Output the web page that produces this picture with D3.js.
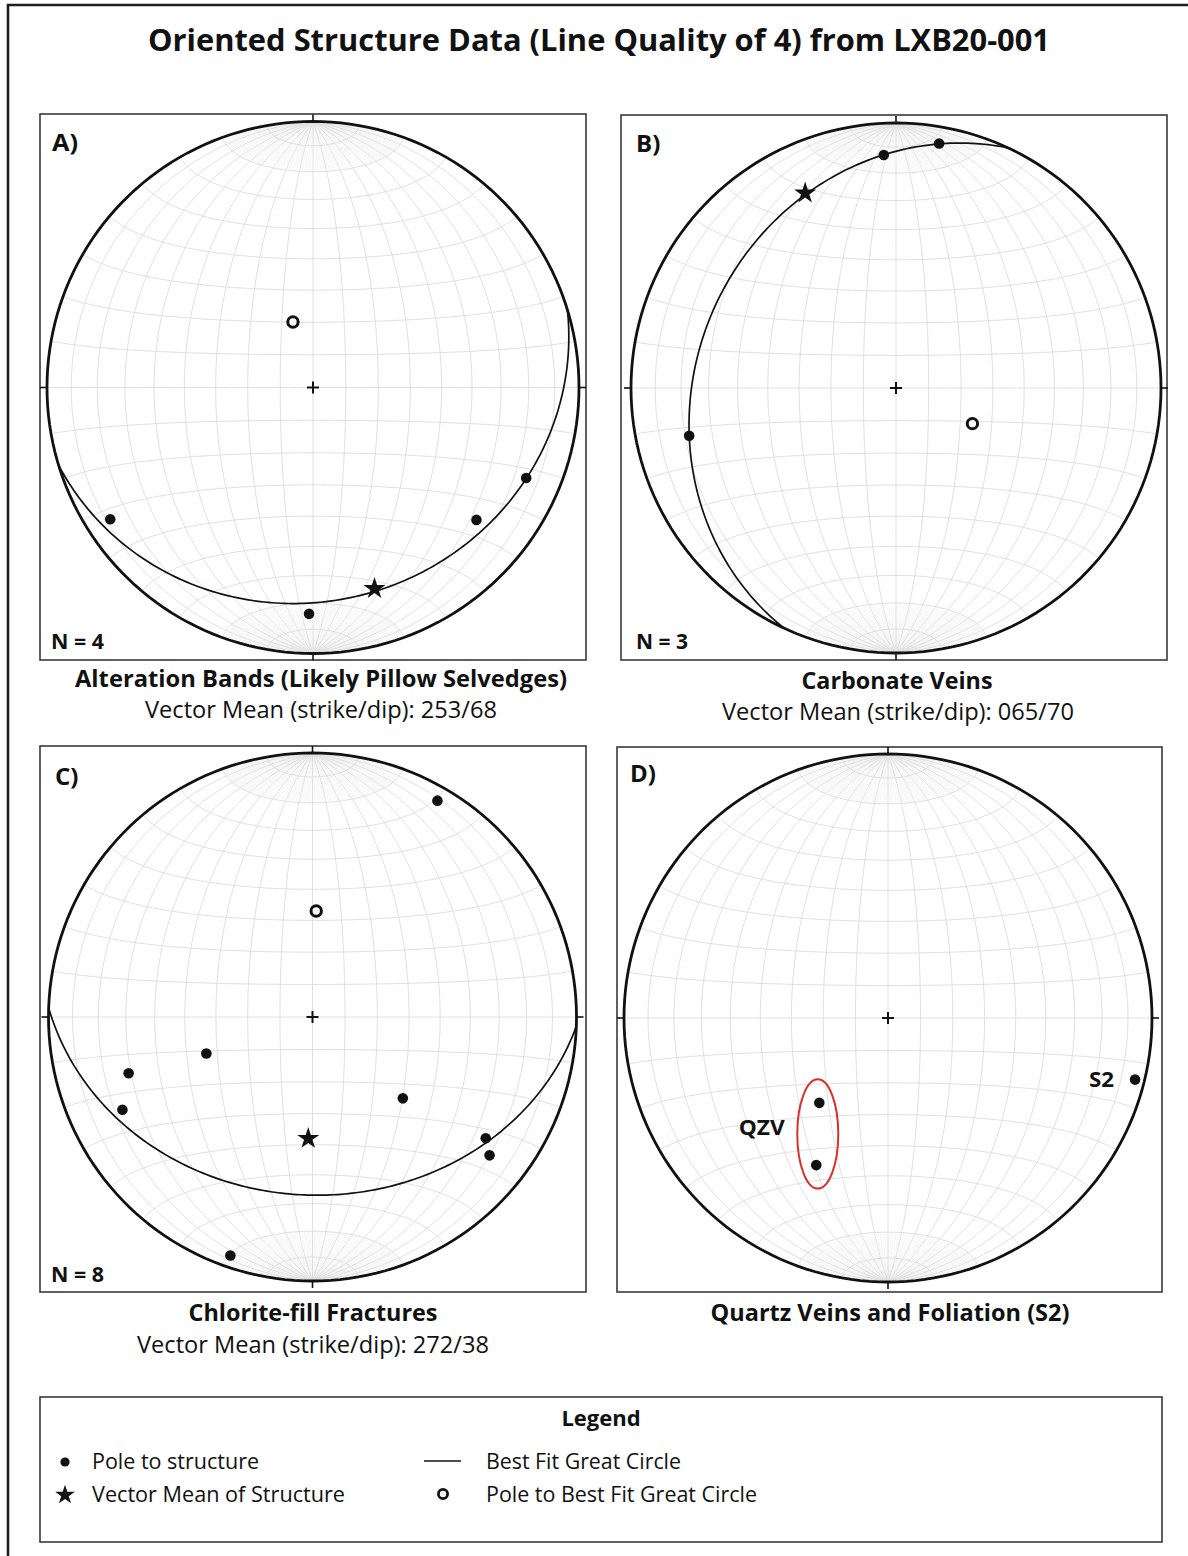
<!DOCTYPE html>
<html><head><meta charset="utf-8">
<script src="https://cdn.jsdelivr.net/npm/d3@7"></script>
<style>html,body{margin:0;padding:0;background:#fff;} svg{display:block;}</style>
</head><body>
<svg id="chart" width="1188" height="1556"></svg>
<script>
// ---------------- DATA ----------------
const chartTitle = "Oriented Structure Data (Line Quality of 4) from LXB20-001";
const panelLetters = ["A)", "B)", "C)", "D)"];
const panelTitles = [
  "Alteration Bands (Likely Pillow Selvedges)",
  "Carbonate Veins",
  "Chlorite-fill Fractures",
  "Quartz Veins and Foliation (S2)"
];
const sampleCounts = [4, 3, 8, null];
// poles to structure, [trend, plunge] (lower hemisphere)
const polesA = [[237, 10], [129, 22], [113, 14], [181, 16]];
const polesB = [[10, 7], [357, 13], [257, 21]];
const polesC = [[30, 6], [251, 55], [253, 28], [244, 21], [132, 52], [125, 21], [128, 16], [199, 5]];
const polesD_QZV = [[219, 56], [206, 38]];
const polesD_S2 = [[104, 4]];
// vector mean of structure, [strike, dip] (right-hand rule)
const vectorMeans = [[253, 68], [65, 70], [272, 38], null];
// pole to best fit great circle, [trend, plunge]
const bestFitPoles = [[343, 69], [115, 64], [2, 57], null];
const legendTitle = "Legend";
const legendLabels = ["Pole to structure", "Vector Mean of Structure", "Best Fit Great Circle", "Pole to Best Fit Great Circle"];

// ---------------- LAYOUT ----------------
const FONT = "'Myriad Pro','Open Sans',sans-serif";
const INK = "#111";
const svg = d3.select("#chart");

const layout = [
  {box: [40, 114, 546, 546], c: [313, 387.5], R: 266,
   letter: [52, 151, 26], n: [51, 649, 53], title: [321, 687, 492], vm: [321, 718, 352]},
  {box: [621, 115, 546, 545], c: [896, 388], R: 265,
   letter: [636, 152, 24], n: [636, 649, 52], title: [897, 689, 191], vm: [898, 720, 352]},
  {box: [40, 746, 546, 546], c: [312.5, 1017], R: 264,
   letter: [55, 785, 24], n: [51, 1282, 53], title: [313, 1321, 249], vm: [313, 1353, 352]},
  {box: [617, 747, 545, 545], c: [888, 1018], R: 264,
   letter: [630, 782, 25], n: null, title: [890, 1321, 359], vm: null}
];
const polesAll = [polesA, polesB, polesC, polesD_QZV.concat(polesD_S2)];

function fit(sel, w) {
  const n = sel.node().getComputedTextLength();
  if (Math.abs(n - w) > 1) sel.attr("textLength", w).attr("lengthAdjust", "spacingAndGlyphs");
  return sel;
}
function addText(g, str, x, y, size, weight, anchor, w) {
  const t = g.append("text").attr("x", x).attr("y", y)
    .attr("font-family", FONT).attr("font-size", size).attr("font-weight", weight)
    .attr("text-anchor", anchor).attr("fill", INK).text(str);
  if (w) fit(t, w);
  return t;
}
const rad = Math.PI / 180;
function lineToLonLat(trend, plunge) {
  const t = trend * rad, p = plunge * rad;
  const N = Math.cos(p) * Math.cos(t), E = Math.cos(p) * Math.sin(t), D = Math.sin(p);
  return [Math.atan2(E, D) / rad, Math.asin(Math.max(-1, Math.min(1, N))) / rad];
}
function planePole(strike, dip) { return [(strike + 270) % 360, 90 - dip]; }

// outer frame
svg.append("path").attr("d", "M8,1560 V5 H1192").attr("fill", "none").attr("stroke", "#1e1e1e").attr("stroke-width", 2.6);

addText(svg, chartTitle, 599, 51, 30, 700, "middle", 902);

const star = d3.symbol(d3.symbolStar, 150);

layout.forEach((L, i) => {
  const g = svg.append("g");
  const [cx, cy] = L.c, R = L.R;
  g.append("rect").attr("x", L.box[0]).attr("y", L.box[1]).attr("width", L.box[2]).attr("height", L.box[3])
    .attr("fill", "#fff").attr("stroke", "#3a3a3a").attr("stroke-width", 1.6);

  const proj = d3.geoAzimuthalEqualArea().rotate([0, 0]).clipAngle(90)
    .scale(R / Math.SQRT2).translate([cx, cy]).precision(0.1);
  const path = d3.geoPath(proj);

  // fine meridians near the poles (dense fan)
  const fan = [];
  for (let lon = -88; lon <= 88; lon += 2) {
    if (lon % 10 === 0) continue;
    fan.push(d3.range(70, 90.01, 1).map(la => [lon, la]));
    fan.push(d3.range(-70, -90.01, -1).map(la => [lon, la]));
  }
  g.append("path").datum({type: "MultiLineString", coordinates: fan}).attr("d", path)
    .attr("fill", "none").attr("stroke", "#ebebeb").attr("stroke-width", 0.5);

  // 10 degree Schmidt net
  const grat = d3.geoGraticule()
    .extentMinor([[-180, -90.0001], [180, 90.0001]]).stepMinor([10, 10]);
  g.append("path").datum(grat()).attr("d", path)
    .attr("fill", "none").attr("stroke", "#dddddd").attr("stroke-width", 0.9);

  // primitive circle
  g.append("path").datum({type: "Sphere"}).attr("d", path)
    .attr("fill", "none").attr("stroke", INK).attr("stroke-width", 2.8);

  // cardinal ticks
  [[0, -1], [0, 1], [-1, 0], [1, 0]].forEach(([dx, dy]) => {
    g.append("line").attr("x1", cx + dx * R).attr("y1", cy + dy * R)
      .attr("x2", cx + dx * (R + 7)).attr("y2", cy + dy * (R + 7))
      .attr("stroke", INK).attr("stroke-width", 1.6);
  });
  // centre cross
  const ctr = proj([0, 0]);
  g.append("path").attr("d", `M${ctr[0] - 6},${ctr[1]}H${ctr[0] + 6}M${ctr[0]},${ctr[1] - 6}V${ctr[1] + 6}`)
    .attr("stroke", INK).attr("stroke-width", 2);

  // best fit great circle
  if (bestFitPoles[i]) {
    const pl = lineToLonLat(...bestFitPoles[i]);
    const ring = d3.geoCircle().center(pl).radius(90).precision(1)().coordinates[0];
    g.append("path").datum({type: "LineString", coordinates: ring}).attr("d", path)
      .attr("fill", "none").attr("stroke", INK).attr("stroke-width", 1.7);
  }

  // poles to structure
  g.selectAll("circle.pole").data(polesAll[i]).join("circle").attr("class", "pole")
    .attr("cx", d => proj(lineToLonLat(...d))[0])
    .attr("cy", d => proj(lineToLonLat(...d))[1])
    .attr("r", 5.3).attr("fill", INK);

  // vector mean star
  if (vectorMeans[i]) {
    const p = proj(lineToLonLat(...planePole(...vectorMeans[i])));
    g.append("path").attr("d", star).attr("transform", `translate(${p[0]},${p[1]})`).attr("fill", INK);
  }
  // pole to best fit great circle
  if (bestFitPoles[i]) {
    const p = proj(lineToLonLat(...bestFitPoles[i]));
    g.append("circle").attr("cx", p[0]).attr("cy", p[1]).attr("r", 5.2)
      .attr("fill", "#fff").attr("stroke", INK).attr("stroke-width", 3);
  }

  // panel text
  addText(g, panelLetters[i], L.letter[0], L.letter[1], 24, 700, "start", L.letter[2]);
  if (L.n && sampleCounts[i] != null) addText(g, `N = ${sampleCounts[i]}`, L.n[0], L.n[1], 22, 700, "start", L.n[2]);
  addText(g, panelTitles[i], L.title[0], L.title[1], 23, 700, "middle", L.title[2]);
  if (L.vm && vectorMeans[i]) {
    const [s, d] = vectorMeans[i];
    addText(g, `Vector Mean (strike/dip): ${d3.format("03d")(s)}/${d}`, L.vm[0], L.vm[1], 23, 400, "middle", L.vm[2]);
  }

  // panel D annotations
  if (i === 3) {
    const q = polesD_QZV.map(d => proj(lineToLonLat(...d)));
    const mx = d3.mean(q, d => d[0]), my = d3.mean(q, d => d[1]);
    const half = Math.abs(q[1][1] - q[0][1]) / 2;
    g.append("ellipse").attr("cx", mx).attr("cy", my).attr("rx", 20.5).attr("ry", half + 23.5)
      .attr("fill", "none").attr("stroke", "#d8302b").attr("stroke-width", 2);
    addText(g, "QZV", mx - 33, my + 1, 21, 700, "end", 46);
    const s2 = proj(lineToLonLat(...polesD_S2[0]));
    addText(g, "S2", s2[0] - 21, s2[1] + 7, 21, 700, "end", 25);
  }
});

// ---------------- LEGEND ----------------
const lg = svg.append("g");
lg.append("rect").attr("x", 40).attr("y", 1397).attr("width", 1122).attr("height", 145)
  .attr("fill", "#fff").attr("stroke", "#3a3a3a").attr("stroke-width", 1.6);
addText(lg, legendTitle, 601, 1426, 22, 700, "middle", 80);
lg.append("circle").attr("cx", 65).attr("cy", 1462).attr("r", 4.6).attr("fill", INK);
addText(lg, legendLabels[0], 92, 1469, 22, 400, "start", 167);
lg.append("path").attr("d", d3.symbol(d3.symbolStar, 120)).attr("transform", "translate(65,1495)").attr("fill", INK);
addText(lg, legendLabels[1], 92, 1502, 22, 400, "start", 253);
lg.append("line").attr("x1", 424).attr("x2", 461).attr("y1", 1461).attr("y2", 1461).attr("stroke", INK).attr("stroke-width", 1.6);
addText(lg, legendLabels[2], 486, 1469, 22, 400, "start", 195);
lg.append("circle").attr("cx", 443).attr("cy", 1494).attr("r", 4.6).attr("fill", "#fff").attr("stroke", INK).attr("stroke-width", 2.8);
addText(lg, legendLabels[3], 486, 1502, 22, 400, "start", 271);
</script></body></html>
